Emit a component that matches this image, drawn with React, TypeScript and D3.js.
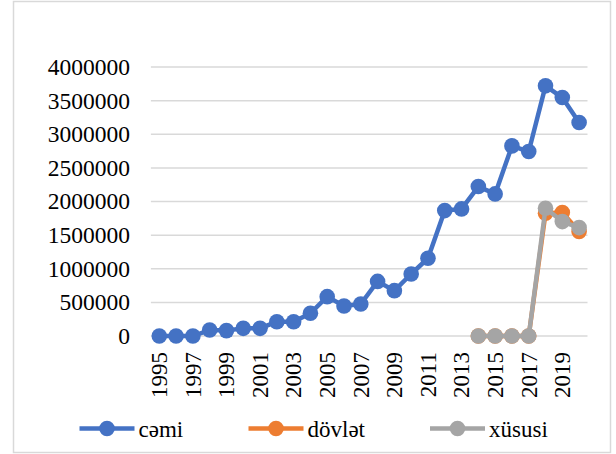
import React, { useEffect, useRef } from 'react';
import * as d3 from 'd3';

const years = d3.range(1995, 2021).map(String);
const tickYears = ['1995', '1997', '1999', '2001', '2003', '2005', '2007', '2009', '2011', '2013', '2015', '2017', '2019'];
const yTicks = [0, 500000, 1000000, 1500000, 2000000, 2500000, 3000000, 3500000, 4000000];

const cemi = [0, 0, 0, 89000, 80000, 114000, 114000, 213000, 213000, 338000, 585000, 446000, 476000, 812000, 674000, 922000, 1156000, 1865000, 1890000, 2222000, 2113000, 2827000, 2743000, 3720000, 3546000, 3174000];
const dovletYears = ['2014', '2015', '2016', '2017', '2018', '2019', '2020'];
const dovlet = [0, 0, 0, 0, 1826000, 1835000, 1555000];
const xususi = [0, 0, 0, 0, 1900000, 1701000, 1612000];

const series = [
  { name: 'cəmi', color: '#4472C4', years: years, values: cemi },
  { name: 'dövlət', color: '#ED7D31', years: dovletYears, values: dovlet },
  { name: 'xüsusi', color: '#A5A5A5', years: dovletYears, values: xususi },
];

const App = () => {
  const svg = useRef(null);
  const width = 616;
  const height = 454;
  const font = 'Liberation Serif, DejaVu Serif, serif';

  const renderChart = (svg: any) => {
    svg.selectAll('*').remove();

    const x = d3.scaleBand().domain(years).range([150.9, 587.5]);
    const y = d3.scaleLinear().domain([0, 4000000]).range([336, 67]);
    const cx = (d: string) => (x(d) as number) + x.bandwidth() / 2;

    // frame
    svg.append('rect')
      .attr('x', 13.5).attr('y', 1.5)
      .attr('width', 597).attr('height', 451)
      .attr('fill', '#fff').attr('stroke', '#d9d9d9').attr('stroke-width', 1.5);

    // grid
    svg.append('g').selectAll('line')
      .data(yTicks)
      .enter()
      .append('line')
      .attr('x1', 150.9).attr('x2', 587.5)
      .attr('y1', (d: number) => y(d)).attr('y2', (d: number) => y(d))
      .attr('stroke', '#d9d9d9').attr('stroke-width', 1.5);

    // y labels
    svg.append('g').selectAll('text')
      .data(yTicks)
      .enter()
      .append('text')
      .attr('x', 130)
      .attr('y', (d: number) => y(d))
      .attr('dy', '0.34em')
      .attr('text-anchor', 'end')
      .attr('font-family', font).attr('font-size', 23.5).attr('fill', '#000')
      .text((d: number) => String(d));

    // x labels
    svg.append('g').selectAll('text')
      .data(tickYears)
      .enter()
      .append('text')
      .attr('transform', (d: string) => `translate(${cx(d)},352) rotate(-90)`)
      .attr('dy', '0.34em')
      .attr('text-anchor', 'end')
      .attr('font-family', font).attr('font-size', 23).attr('fill', '#000')
      .text((d: string) => d);

    const line = d3.line<[string, number]>()
      .x(d => cx(d[0]))
      .y(d => y(d[1]));

    series.forEach(s => {
      const pts: [string, number][] = s.years.map((yr, i) => [yr, s.values[i]]);
      const g = svg.append('g');
      g.append('path')
        .datum(pts)
        .attr('d', line)
        .attr('fill', 'none')
        .attr('stroke', s.color)
        .attr('stroke-width', 4.5)
        .attr('stroke-linejoin', 'round');
      g.selectAll('circle')
        .data(pts)
        .enter()
        .append('circle')
        .attr('cx', (d: [string, number]) => cx(d[0]))
        .attr('cy', (d: [string, number]) => y(d[1]))
        .attr('r', 7.8)
        .attr('fill', s.color);
    });

    // legend
    const legendX = [79.5, 248.5, 430];
    const leg = svg.append('g').selectAll('g')
      .data(series)
      .enter()
      .append('g')
      .attr('transform', (_d: any, i: number) => `translate(${legendX[i]},428.5)`);
    leg.append('line')
      .attr('x1', 0).attr('x2', 55)
      .attr('stroke', (d: any) => d.color).attr('stroke-width', 4.5);
    leg.append('circle')
      .attr('cx', 27.5).attr('r', 7.8)
      .attr('fill', (d: any) => d.color);
    leg.append('text')
      .attr('x', 59)
      .attr('y', 8)
      .attr('font-family', font).attr('font-size', 23).attr('fill', '#000')
      .text((d: any) => d.name);
  };

  useEffect(() => {
    document.body.style.margin = '0';
    renderChart(d3.select(svg.current));
  }, []);

  return (
    <svg
      ref={svg}
      width={width}
      height={height}
      style={{ display: 'block', background: '#fff' }}
    />
  );
};

export default App;
